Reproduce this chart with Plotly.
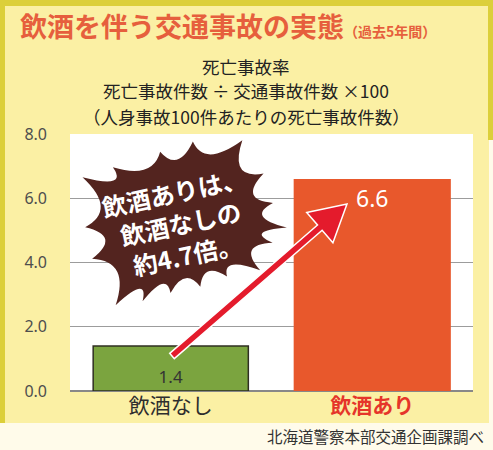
import math
import plotly.graph_objects as go

# ---- data ----
categories = ["飲酒なし", "飲酒あり"]
values = [1.4, 6.6]
value_labels = ["1.4", "6.6"]
y_ticks = [0, 2, 4, 6, 8]
y_tick_labels = ["0.0", "2.0", "4.0", "6.0", "8.0"]

title_main = "飲酒を伴う交通事故の実態"
title_note = "（過去5年間）"
sub_lines = ["死亡事故率", "死亡事故件数 ÷ 交通事故件数 ×100", "（人身事故100件あたりの死亡事故件数）"]
callout = "飲酒ありは、<br>飲酒なしの<br>約4.7倍。"
source = "北海道警察本部交通企画課調べ"

# ---- styling / layout geometry ----
W, H = 493, 450
PL, PR, PT, PB = 70, 473, 134, 391
JP = "Noto Sans CJK JP"


def fx(px):
    return (px - PL) / (PR - PL)


def fy(py):
    return (PB - py) / (PB - PT)


fig = go.Figure()

bar_colors = ["#7ba43f", "#e8582c"]
fig.add_trace(go.Bar(
    x=[categories[0]], y=[values[0]], width=0.77,
    marker=dict(color=bar_colors[0], line=dict(color="#2f2f22", width=1.5)),
    text=[value_labels[0]], textposition="inside", insidetextanchor="start",
    textangle=0, constraintext="none",
    textfont=dict(family="Noto Sans", size=17, color="#333333"),
    hoverinfo="skip", showlegend=False,
))
fig.add_trace(go.Bar(
    x=[categories[1]], y=[values[1]], width=0.78,
    marker=dict(color=bar_colors[1], line=dict(width=0)),
    text=[value_labels[1]], textposition="inside", insidetextanchor="end",
    textangle=0, constraintext="none",
    textfont=dict(family="Noto Sans", size=23, color="#ffffff"),
    hoverinfo="skip", showlegend=False,
))

shapes = []
# background panel and frame
shapes.append(dict(type="rect", xref="paper", yref="paper", layer="below",
                   x0=fx(0), x1=fx(489), y0=fy(423), y1=fy(0),
                   fillcolor="#fbf0a4", line=dict(width=0)))
for (a, b, c, d) in [(0, 493, 0, 6), (0, 5, 0, 423), (488, 493, 0, 140)]:
    shapes.append(dict(type="rect", xref="paper", yref="paper", layer="below",
                       x0=fx(a), x1=fx(b), y0=fy(d), y1=fy(c),
                       fillcolor="#dccf3a", line=dict(width=0)))
shapes.append(dict(type="rect", xref="paper", yref="paper", layer="below",
                   x0=0, x1=1, y0=0, y1=1, fillcolor="#ffffff", line=dict(width=0)))

# starburst callout
cx, cy = 183, 222
burst_angles = [12, 31, 54, 83, 108, 142, 156, 183, 202, 231, 243, 260, 285, 309, 328, 347, 357]
burst_radii = [92, 94, 101, 81, 74, 89, 110, 98, 98, 107, 89, 72, 67, 70, 91, 92, 104]


def pt(ang, r):
    a = math.radians(ang)
    return cx + r * math.cos(a), cy - r * math.sin(a)


n = len(burst_angles)
path = ""
for i in range(n):
    a0, r0 = burst_angles[i], burst_radii[i]
    a1, r1 = burst_angles[(i + 1) % n], burst_radii[(i + 1) % n]
    if a1 < a0:
        a1 += 360
    x0, y0 = pt(a0, r0)
    if i == 0:
        path += f"M{fx(x0):.4f},{fy(y0):.4f} "
    qx, qy = pt((a0 + a1) / 2, 0.64 * (r0 + r1) / 2)
    x1, y1 = pt(a1, r1)
    path += f"Q{fx(qx):.4f},{fy(qy):.4f} {fx(x1):.4f},{fy(y1):.4f} "
path += "Z"
shapes.append(dict(type="path", xref="paper", yref="paper", path=path,
                   fillcolor="#53241f", line=dict(width=0)))

# arrow
T = (172, 356)
P = (347, 204)
L = math.hypot(P[0] - T[0], P[1] - T[1])
ux, uy = (P[0] - T[0]) / L, (P[1] - T[1]) / L
nx, ny = -uy, ux
hw, HL, HW = 3.5, 36, 20
B = (P[0] - HL * ux, P[1] - HL * uy)
pts = [
    (T[0] + hw * nx, T[1] + hw * ny),
    (B[0] + hw * nx, B[1] + hw * ny),
    (B[0] + HW * nx, B[1] + HW * ny),
    P,
    (B[0] - HW * nx, B[1] - HW * ny),
    (B[0] - hw * nx, B[1] - hw * ny),
    (T[0] - hw * nx, T[1] - hw * ny),
]
apath = "M" + " L".join(f"{fx(x):.4f},{fy(y):.4f}" for x, y in pts) + " Z"
shapes.append(dict(type="path", xref="paper", yref="paper", path=apath,
                   fillcolor="#e41b2c", line=dict(color="#ffffff", width=1.5)))

annotations = []
annotations.append(dict(
    xref="paper", yref="paper", x=fx(18), y=fy(26), xanchor="left", yanchor="middle",
    text=f"<b>{title_main}</b><span style='font-size:14px'><b>{title_note}</b></span>",
    showarrow=False, font=dict(family=JP, size=27, color="#e65f3d")))
for yy, line in zip([66, 91, 116], sub_lines):
    annotations.append(dict(
        xref="paper", yref="paper", x=fx(246), y=fy(yy), xanchor="center", yanchor="middle",
        text=line, showarrow=False, font=dict(family=JP, size=17.5, color="#222222")))
annotations.append(dict(
    xref="paper", yref="paper", x=fx(180), y=fy(223), xanchor="center", yanchor="middle",
    text=f"<b>{callout}</b>", showarrow=False, textangle=-12,
    font=dict(family=JP, size=24.5, color="#ffffff")))
annotations.append(dict(
    xref="paper", yref="paper", x=fx(486), y=fy(436), xanchor="right", yanchor="middle",
    text=source, showarrow=False, font=dict(family=JP, size=15.5, color="#333333")))

fig.update_layout(
    width=W, height=H,
    margin=dict(l=PL, r=W - PR, t=PT, b=H - PB, pad=0),
    paper_bgcolor="#fffbea", plot_bgcolor="#ffffff",
    barmode="overlay",
    shapes=shapes, annotations=annotations,
    xaxis=dict(
        type="category", range=[-0.5, 1.5], showgrid=False, showline=False, ticks="",
        tickvals=categories,
        ticktext=["<span style='color:#2e2e2e'>飲酒なし</span>",
                  "<b><span style='color:#e5352a'>飲酒あり</span></b>"],
        tickfont=dict(family=JP, size=21),
        fixedrange=True,
    ),
    yaxis=dict(
        range=[0, 8], tickvals=y_ticks, ticktext=y_tick_labels,
        showgrid=True, gridcolor="#9c9c9c", gridwidth=1,
        zeroline=True, zerolinecolor="#888888", zerolinewidth=1.5,
        showline=False, ticks="", ticklabelstandoff=22,
        tickfont=dict(family="Noto Sans", size=16, color="#4e4e4e"),
        fixedrange=True,
    ),
    showlegend=False,
)

fig.write_html("out.html", config={"displayModeBar": False},
               post_script="document.body.style.margin='0';document.body.style.overflow='hidden';")
